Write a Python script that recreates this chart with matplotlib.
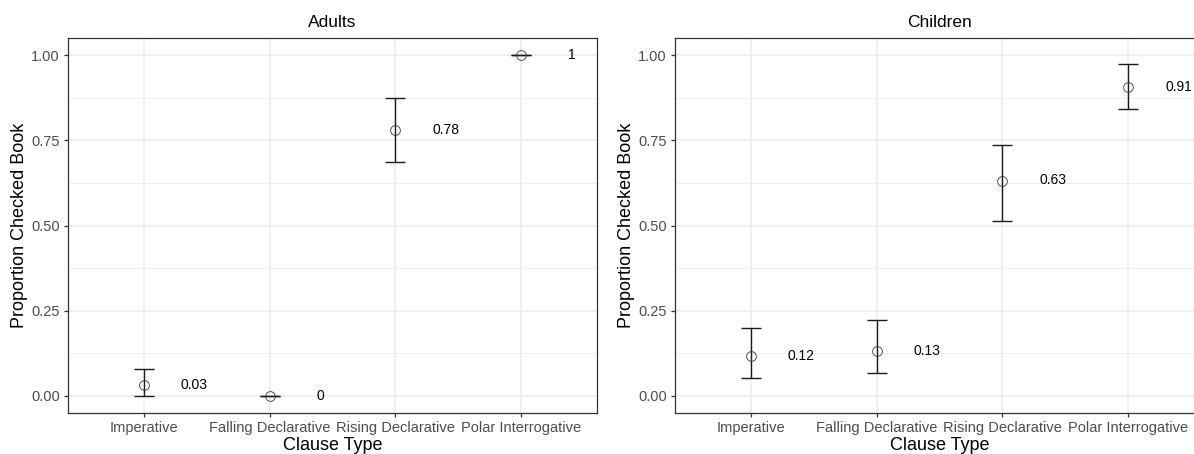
import numpy as np
import matplotlib
matplotlib.use('Agg')
import matplotlib.pyplot as plt
from matplotlib.ticker import MultipleLocator

plt.rcParams['font.family'] = ['Liberation Sans', 'DejaVu Sans']

# data
clause_types = ['Imperative', 'Falling Declarative', 'Rising Declarative', 'Polar Interrogative']

adult_mean = [0.032, 0.0, 0.781, 1.0]
adult_lo = [0.0, 0.0, 0.687, 1.0]
adult_hi = [0.078, 0.0, 0.875, 1.0]
adult_lab = ['0.03', '0', '0.78', '1']

child_mean = [0.118, 0.131, 0.632, 0.907]
child_lo = [0.053, 0.066, 0.514, 0.842]
child_hi = [0.198, 0.223, 0.736, 0.974]
child_lab = ['0.12', '0.13', '0.63', '0.91']

W, H = 1194, 454
fig = plt.figure(figsize=(W / 100, H / 100), dpi=100)

grid_col = '#EBEBEB'
border_col = '#333333'
tick_col = '#4D4D4D'


def panel(rect, title, mean, lo, hi, labels):
    ax = fig.add_axes(rect)
    x = np.arange(1, len(clause_types) + 1)
    mean = np.array(mean)
    yerr = np.vstack([mean - np.array(lo), np.array(hi) - mean])
    ax.errorbar(x, mean, yerr=yerr, fmt='none', ecolor='#1a1a1a',
                elinewidth=1.0, capsize=7, capthick=1.0, zorder=3)
    ax.plot(x, mean, 'o', mfc='none', mec='#333333', mew=0.6, ms=7, zorder=4)
    for xi, yi, lab in zip(x, mean, labels):
        ax.text(xi + 0.4, yi, lab, ha='center', va='center', fontsize=10,
                color='black', zorder=5)
    ax.set_xlim(0.4, 4.6)
    ax.set_ylim(-0.05, 1.05)
    ax.set_xticks(x)
    ax.set_xticklabels(clause_types)
    ax.yaxis.set_major_locator(MultipleLocator(0.25))
    ax.yaxis.set_minor_locator(MultipleLocator(0.125))
    ax.yaxis.set_major_formatter(matplotlib.ticker.FormatStrFormatter('%.2f'))
    ax.grid(True, which='major', color=grid_col, lw=1.1, zorder=0)
    ax.grid(True, which='minor', axis='y', color=grid_col, lw=0.55, zorder=0)
    ax.set_axisbelow(True)
    ax.tick_params(which='major', length=3, width=0.9, color=border_col,
                   labelcolor=tick_col, labelsize=10.5, pad=3)
    ax.tick_params(which='minor', length=0)
    for s in ax.spines.values():
        s.set_color(border_col)
        s.set_linewidth(0.9)
    ax.set_title(title, fontsize=12.5, pad=8)
    ax.set_xlabel('Clause Type', fontsize=13, labelpad=1)
    ax.set_ylabel('Proportion Checked Book', fontsize=13, labelpad=2)
    return ax


bottom = 1 - 413 / H
height = (413 - 38) / H
width = 529 / W
panel([68 / W, bottom, width, height], 'Adults', adult_mean, adult_lo, adult_hi, adult_lab)
panel([675 / W, bottom, width, height], 'Children', child_mean, child_lo, child_hi, child_lab)

fig.savefig('out.png', dpi=100)
